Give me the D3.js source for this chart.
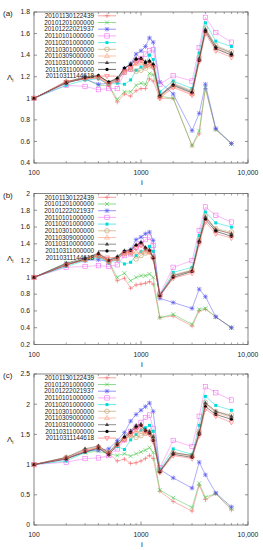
<!DOCTYPE html>
<html>
  <head>
    <meta http-equiv="Content-Type" content="text/html; charset=utf-8" />
    <style>
    body {
      margin: 0;
      background: #fff;
    }
    svg text {
      font-family: "Liberation Sans", Arial, sans-serif;
      fill: #222;
    }
    </style>
  </head>
  <body>
    <div id="main"></div>
    <script src="https://d3js.org/d3.v7.min.js"></script>
    <script>

// sampled i values (same for every series)
var xValues = [100, 200, 300, 400, 500, 600, 700, 800, 900, 1000, 1100, 1200, 1300, 1500, 2000, 3000, 3500, 4000, 5000, 7000];

var seriesNames = [
  "20101130122439",
  "20101201000000",
  "20101222021937",
  "20110101000000",
  "20110201000000",
  "20110301000000",
  "20110309000000",
  "20110310000000",
  "20110311000000",
  "20110311144618"
];

var seriesColors = ["#f26464", "#44c444", "#5050f5", "#f56ef5", "#00dada", "#bb9a60", "#ff9a78", "#444444", "#000000", "#ff6464"];
var seriesMarkers = ["plus", "cross", "star", "sqOpen", "sqFill", "circOpen", "triOpen", "triFill", "circFill", "triDown"];

var panelLabels = ["(a)", "(b)", "(c)"];
var yDomains = [[0.4, 1.8], [0.2, 2], [0, 2.5]];
var yTicksA = [0.4, 0.6, 0.8, 1, 1.2, 1.4, 1.6, 1.8];
var yTicksB = [0.2, 0.4, 0.6, 0.8, 1, 1.2, 1.4, 1.6, 1.8, 2];
var yTicksC = [0, 0.5, 1, 1.5, 2, 2.5];
var xTickLabels = ["100", "1000", "10,000"];

var valsA = [
  [1.00,1.16,1.18,1.19,1.12,0.965,1.04,1.02,1.07,1.09,1.09,1.18,1.16,1.00,1.00,0.56,0.67,1.09,0.71,0.58],
  [1.00,1.15,1.18,1.12,1.12,0.99,1.06,1.06,1.12,1.14,1.13,1.23,1.22,1.02,1.00,0.56,0.70,1.10,0.71,0.58],
  [1.00,1.15,1.18,1.13,1.14,1.16,1.27,1.32,1.41,1.44,1.48,1.56,1.52,1.15,1.04,0.70,0.86,1.13,0.72,0.58],
  [1.00,1.12,1.11,1.08,1.09,1.09,1.24,1.27,1.35,1.37,1.41,1.44,1.45,1.13,1.21,1.16,1.47,1.75,1.61,1.52],
  [1.00,1.12,1.17,1.18,1.13,1.14,1.13,1.17,1.26,1.29,1.31,1.40,1.36,1.06,1.16,1.09,1.42,1.70,1.53,1.48],
  [1.00,1.15,1.19,1.20,1.14,1.17,1.24,1.27,1.25,1.26,1.28,1.30,1.29,1.02,1.14,1.07,1.38,1.65,1.49,1.43],
  [1.00,1.15,1.19,1.20,1.14,1.17,1.26,1.29,1.32,1.33,1.30,1.31,1.30,1.01,1.11,1.04,1.36,1.63,1.47,1.41],
  [1.00,1.15,1.20,1.21,1.15,1.19,1.28,1.32,1.37,1.37,1.34,1.35,1.32,1.03,1.13,1.06,1.37,1.64,1.48,1.42],
  [1.00,1.14,1.19,1.21,1.15,1.18,1.28,1.31,1.36,1.37,1.33,1.34,1.31,1.02,1.12,1.05,1.35,1.62,1.46,1.40],
  [1.00,1.15,1.18,1.19,1.13,1.16,1.25,1.28,1.33,1.35,1.30,1.32,1.29,1.00,1.10,1.03,1.34,1.60,1.44,1.38]
];

var valsB = [
  [1.00,1.16,1.21,1.26,1.18,0.96,0.99,0.87,0.91,0.92,0.93,0.95,0.92,0.52,0.54,0.42,0.60,0.62,0.53,0.40],
  [1.00,1.17,1.21,1.24,1.19,1.00,1.05,0.96,1.00,1.02,1.02,1.04,1.00,0.52,0.56,0.44,0.62,0.63,0.53,0.40],
  [1.00,1.16,1.20,1.21,1.19,1.22,1.30,1.33,1.45,1.48,1.52,1.54,1.44,0.75,0.70,0.63,0.86,0.77,0.53,0.40],
  [1.00,1.12,1.13,1.14,1.13,1.15,1.26,1.28,1.36,1.40,1.45,1.48,1.38,0.80,1.12,1.20,1.56,1.84,1.74,1.66],
  [1.00,1.13,1.20,1.24,1.17,1.21,1.16,1.18,1.26,1.31,1.33,1.37,1.31,0.79,1.06,1.12,1.50,1.78,1.65,1.60],
  [1.00,1.15,1.21,1.26,1.19,1.22,1.28,1.29,1.22,1.26,1.29,1.30,1.25,0.79,1.03,1.09,1.45,1.73,1.58,1.54],
  [1.00,1.15,1.21,1.26,1.19,1.22,1.29,1.30,1.30,1.30,1.31,1.30,1.24,0.78,1.02,1.08,1.44,1.72,1.57,1.52],
  [1.00,1.17,1.23,1.29,1.21,1.25,1.32,1.33,1.39,1.42,1.36,1.33,1.24,0.79,1.02,1.08,1.44,1.72,1.57,1.52],
  [1.00,1.145,1.22,1.28,1.20,1.24,1.31,1.32,1.38,1.41,1.35,1.32,1.23,0.78,1.00,1.07,1.42,1.69,1.55,1.49],
  [1.00,1.15,1.21,1.26,1.19,1.22,1.29,1.30,1.35,1.38,1.33,1.31,1.22,0.78,0.99,1.05,1.40,1.66,1.52,1.47]
];

var valsC = [
  [1.00,1.10,1.22,1.28,1.18,1.06,1.09,1.02,1.03,1.06,1.10,1.15,1.10,0.56,0.39,0.23,0.66,0.42,0.52,0.25],
  [1.00,1.11,1.20,1.22,1.18,1.15,1.18,1.14,1.18,1.21,1.24,1.28,1.20,0.58,0.45,0.29,0.69,0.46,0.52,0.27],
  [1.00,1.10,1.22,1.24,1.26,1.40,1.53,1.72,1.83,1.90,1.96,2.02,1.88,0.92,0.78,0.61,1.04,0.83,0.53,0.30],
  [1.00,1.04,1.10,1.11,1.15,1.26,1.41,1.55,1.62,1.70,1.78,1.82,1.60,0.95,1.40,1.30,1.80,2.29,2.19,2.07],
  [1.00,1.06,1.20,1.27,1.18,1.30,1.25,1.41,1.50,1.57,1.61,1.65,1.55,0.92,1.26,1.17,1.65,2.13,1.98,1.90],
  [1.00,1.12,1.24,1.29,1.20,1.33,1.42,1.48,1.45,1.48,1.52,1.54,1.46,0.89,1.20,1.15,1.55,2.03,1.88,1.82],
  [1.00,1.12,1.24,1.29,1.20,1.33,1.42,1.50,1.55,1.55,1.52,1.52,1.44,0.89,1.19,1.14,1.53,2.00,1.86,1.78],
  [1.00,1.12,1.26,1.31,1.20,1.36,1.47,1.56,1.65,1.67,1.58,1.55,1.46,0.89,1.20,1.15,1.54,2.02,1.88,1.80],
  [1.00,1.09,1.21,1.27,1.16,1.33,1.45,1.53,1.62,1.65,1.56,1.52,1.40,0.88,1.17,1.12,1.50,1.96,1.83,1.75],
  [1.00,1.10,1.22,1.28,1.18,1.32,1.41,1.50,1.58,1.63,1.55,1.50,1.38,0.87,1.15,1.10,1.48,1.92,1.80,1.70]
];

var panelVals = [valsA, valsB, valsC];
var panelTicks = [yTicksA, yTicksB, yTicksC];

var width = 263, height = 550;
var left = 34, right = 248, panelH = 151;
var panelTops = [12, 193.5, 374];

var svg = d3.select("#main").append("svg")
    .attr("width", width)
    .attr("height", height);

var x = d3.scaleLog()
    .domain([100, 10000])
    .range([left, right]);

// marker shapes, gnuplot style
function drawMarker(g, type, color) {
  var s = 2.3;
  if (type == "plus") {
    g.append("path").attr("d", "M" + (-s) + ",0H" + s + "M0," + (-s) + "V" + s)
      .attr("stroke", color).attr("stroke-width", 0.6);
  } else if (type == "cross") {
    g.append("path").attr("d", "M-2,-2L2,2M-2,2L2,-2")
      .attr("stroke", color).attr("stroke-width", 0.6);
  } else if (type == "star") {
    g.append("path").attr("d", "M-2,-2L2,2M-2,2L2,-2M" + (-s) + ",0H" + s + "M0," + (-s) + "V" + s)
      .attr("stroke", color).attr("stroke-width", 0.6);
  } else if (type == "sqOpen") {
    g.append("rect").attr("x", -2.2).attr("y", -2.2).attr("width", 4.4).attr("height", 4.4)
      .attr("fill", "none").attr("stroke", color).attr("stroke-width", 0.6);
  } else if (type == "sqFill") {
    g.append("rect").attr("x", -1.5).attr("y", -1.5).attr("width", 3).attr("height", 3)
      .attr("fill", color);
  } else if (type == "circOpen") {
    g.append("circle").attr("r", 2.3)
      .attr("fill", "none").attr("stroke", color).attr("stroke-width", 0.6);
  } else if (type == "triOpen") {
    g.append("path").attr("d", "M0,-2.6L2.4,1.6L-2.4,1.6Z")
      .attr("fill", "none").attr("stroke", color).attr("stroke-width", 0.6);
  } else if (type == "triFill") {
    g.append("path").attr("d", "M0,-2.3L2.1,1.4L-2.1,1.4Z")
      .attr("fill", color);
  } else if (type == "circFill") {
    g.append("circle").attr("r", 1.6).attr("fill", color);
  } else if (type == "triDown") {
    g.append("path").attr("d", "M0,2.6L2.4,-1.6L-2.4,-1.6Z")
      .attr("fill", "none").attr("stroke", color).attr("stroke-width", 0.6);
  }
}

panelVals.forEach(function(vals, p) {
  var top = panelTops[p];
  var bottom = top + panelH;

  var y = d3.scaleLinear()
      .domain(yDomains[p])
      .range([bottom, top]);

  var panel = svg.append("g").attr("class", "panel-" + p);

  // frame
  panel.append("rect")
    .attr("x", left).attr("y", top)
    .attr("width", right - left).attr("height", panelH)
    .attr("fill", "none").attr("stroke", "#666").attr("stroke-width", 0.8);

  // y ticks, mirrored on the right
  panelTicks[p].forEach(function(t) {
    panel.append("path")
      .attr("d", "M" + left + "," + y(t) + "h3M" + right + "," + y(t) + "h-3")
      .attr("stroke", "#666").attr("stroke-width", 0.7);
    panel.append("text")
      .attr("x", left - 4).attr("y", y(t) + 2.3)
      .attr("text-anchor", "end")
      .style("font-size", "6.8px")
      .text(t);
  });

  // x ticks (log), mirrored on the top
  var minor = [];
  [100, 1000].forEach(function(d) {
    for (var k = 2; k <= 9; k++) minor.push(d * k);
  });
  minor.forEach(function(t) {
    panel.append("path")
      .attr("d", "M" + x(t) + "," + bottom + "v-2M" + x(t) + "," + top + "v2")
      .attr("stroke", "#666").attr("stroke-width", 0.6);
  });
  [100, 1000, 10000].forEach(function(t, i) {
    panel.append("path")
      .attr("d", "M" + x(t) + "," + bottom + "v-3.5M" + x(t) + "," + top + "v3.5")
      .attr("stroke", "#666").attr("stroke-width", 0.7);
    panel.append("text")
      .attr("x", x(t)).attr("y", bottom + 12)
      .attr("text-anchor", "middle")
      .style("font-size", "6.8px")
      .text(xTickLabels[i]);
  });

  // axis labels
  panel.append("text")
    .attr("x", (left + right) / 2 + 1).attr("y", bottom + 22)
    .attr("text-anchor", "middle")
    .style("font-size", "8px")
    .text("i");
  var yl = panel.append("text")
    .attr("x", 7).attr("y", (top + bottom) / 2 - 8)
    .style("font-size", "8px");
  yl.append("tspan").text("Λ");
  yl.append("tspan").attr("dy", 2).style("font-size", "5.5px").text("i");

  panel.append("text")
    .attr("x", 3).attr("y", top + 4)
    .style("font-size", "8px")
    .text(panelLabels[p]);

  var line = d3.line()
    .x(function(d, i) { return x(xValues[i]); })
    .y(function(d) { return y(d); });

  vals.forEach(function(row, s) {
    var g = panel.append("g").attr("class", "series-" + s);
    g.append("path")
      .attr("d", line(row))
      .attr("fill", "none")
      .attr("stroke", seriesColors[s])
      .attr("stroke-width", 0.6)
      .attr("stroke-opacity", 0.8);
    row.forEach(function(v, i) {
      var m = g.append("g").attr("transform", "translate(" + x(xValues[i]) + "," + y(v) + ")");
      drawMarker(m, seriesMarkers[s], seriesColors[s]);
    });
  });

  // legend
  seriesNames.forEach(function(name, s) {
    var ly = top + 3.8 + s * 6.7;
    panel.append("text")
      .attr("x", 94).attr("y", ly + 2.2)
      .attr("text-anchor", "end")
      .style("font-size", "6.4px")
      .text(name);
    panel.append("path")
      .attr("d", "M98," + ly + "H116")
      .attr("stroke", seriesColors[s]).attr("stroke-width", 0.6);
    var m = panel.append("g").attr("transform", "translate(107," + ly + ")");
    drawMarker(m, seriesMarkers[s], seriesColors[s]);
  });
});

    </script>
  </body>
</html>
